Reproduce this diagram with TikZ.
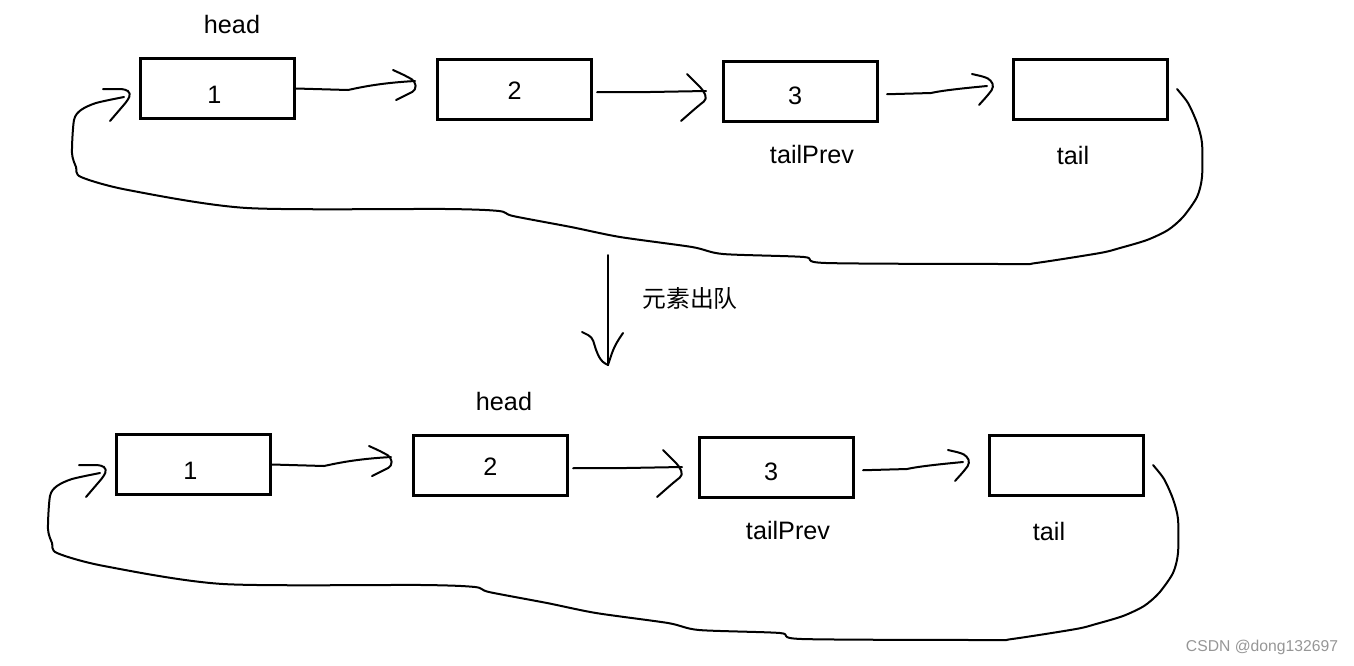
\documentclass[tikz,border=0pt]{standalone}
\usepackage{fontspec}
\setmainfont{Liberation Sans}
\newfontfamily\cjk{Noto Sans CJK SC}
\definecolor{wm}{RGB}{150,150,150}
\tikzset{
  box/.style={draw=black, line width=1.5pt, rectangle, inner sep=0pt, minimum width=77pt, minimum height=30pt},
  num/.style={inner sep=0pt, font=\fontsize{12.6}{15}\selectfont},
  lbl/.style={inner sep=0pt, font=\fontsize{12.6}{15}\selectfont},
  conn/.style={draw=black, line width=1pt, line join=round, line cap=round},
  hd/.style={draw=black, line width=1pt, line join=round, line cap=round, rounded corners=2pt},
}
\newcommand\linkrow[3]{%
  \node[box] (b1#1) at (217.5,88.5) {};
  \node[box] (b2#1) at (514.5,89.5) {};
  \node[box] (b3#1) at (800.5,91.5) {};
  \node[box] (b4#1) at (1090,89) {};
  \node[num] (n1#1) at (214.5,95) {1};
  \node[num] (n2#1) at (514.5,91) {2};
  \node[num] (n3#1) at (795,96) {3};
  \node[lbl] (head#1) at (#2,#3) {head};
  \node[lbl] (tp#1) at (812,154) {tailPrev};
  \node[lbl] (tl#1) at (1073,155) {tail};
  \coordinate (t12#1) at (415,81);
  \coordinate (t23#1) at (706,91);
  \coordinate (t34#1) at (987,86);
  \coordinate (ls#1) at (1177,89);
  \coordinate (le#1) at (124,97);
  % 1 -> 2
  \draw[conn] (b1#1.east) -- (348,90) .. controls (362,87) and (380,83) .. (t12#1);
  \draw[hd] (393,70) -- (404,75) -- (415,81) -- (416,90) -- (406,95) -- (396,100);
  % 2 -> 3
  \draw[conn] ([xshift=2pt]b2#1.-2.6) -- (650,92) -- (t23#1);
  \draw[hd] (687,74) -- (695,82) -- (703,90) -- (707,99) -- (697,107) -- (681,121);
  % 3 -> 4
  \draw[conn] ([xshift=4pt]b3#1.-2.6) -- (931,93) .. controls (940,91) and (955,89) .. (t34#1);
  \draw[hd] (972,74) -- (985,77) -- (991,80) -- (994,87) -- (988,95) -- (979,105);
  % loop back 4 -> 1
  \draw[conn] plot[smooth, tension=.45] coordinates {(ls#1) (1188,103) (1197,123) (1202,143) (1202,177) (1197,197) (1183,217) (1168,230) (1147,240) (1120,248) (1100,253) (1036,263) (1013,264) (826,263) (804,257) (723,254) (692,247) (620,237) (571,227) (513,216) (499,211) (446,209) (247,208) (128,190) (81,177) (76,167) (72,153) (74,120) (81,110) (96,103) (le#1)};
  \draw[hd] (103,89) -- (125,89) -- (131,93) -- (128,100) -- (110,121);
}
\begin{document}
\begin{tikzpicture}[x=0.5pt, y=-0.5pt]
  \useasboundingbox (0,0) rectangle (1354,665);
  \linkrow{a}{232}{24}
  \begin{scope}[shift={(-24,376)}]
    \linkrow{b}{528}{25}
  \end{scope}
  % dequeue arrow
  \coordinate (vtop) at (608,255);
  \coordinate (vbot) at (608,365);
  \draw[conn] (vtop) -- (vbot);
  \draw[hd] (582,332) -- (592,337) -- (597,353) -- (602,362) -- (vbot);
  \draw[hd] (623,333) -- (617,342) -- (613,350) -- (vbot);
  \node[lbl, font=\cjk\fontsize{11.9}{14}\selectfont] (deq) at (690,298) {元素出队};
  \node[inner sep=0pt, text=wm, font=\fontsize{7.85}{9}\selectfont] (wmk) at (1262,647) {CSDN @dong132697};
\end{tikzpicture}
\end{document}
